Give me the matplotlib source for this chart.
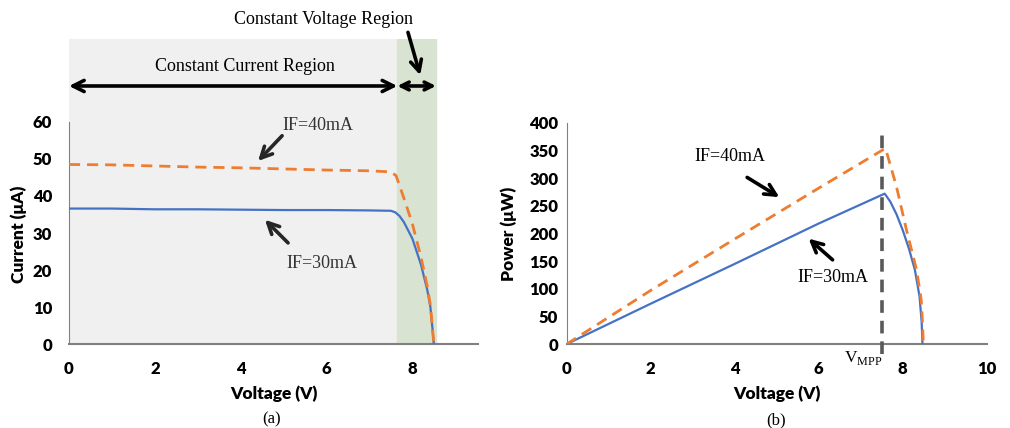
import numpy as np
import matplotlib.pyplot as plt

plt.rcParams['font.family'] = ['Lato', 'DejaVu Sans']
plt.rcParams['mathtext.fontset'] = 'custom'
plt.rcParams['mathtext.rm'] = 'Liberation Serif'

# ---- data: I-V curves (panel a)
v30 = [0, 1, 2, 3, 4, 5, 6, 7, 7.5, 7.6, 7.7, 7.8, 8.0, 8.2, 8.35, 8.42, 8.47, 8.5]
i30 = [36.6, 36.6, 36.4, 36.4, 36.3, 36.2, 36.2, 36.1, 36.0, 35.6, 34.6, 33.0, 28.5, 21.5, 14.5, 10, 4, 0]
v40 = [0, 1, 2, 3, 4, 5, 6, 7, 7.5, 7.62, 7.8, 8.0, 8.2, 8.35, 8.42, 8.47, 8.5]
i40 = [48.5, 48.4, 48.1, 47.8, 47.6, 47.3, 47.0, 46.8, 46.5, 45.5, 39.5, 32.5, 23.5, 15.5, 10.5, 4, 0]

# ---- data: P-V curves (panel b)
pv30 = [0, 2, 4, 6, 7.57, 7.7, 7.85, 8.0, 8.15, 8.29, 8.4, 8.45, 8.47]
p30 = [0, 73, 145, 218, 272, 258, 235, 206, 172, 134, 86, 40, 0]
pv40 = [0, 2, 4, 6, 7.59, 7.85, 8.09, 8.33, 8.44, 8.47, 8.49]
p40 = [0, 97, 190, 282, 354, 285, 206, 134, 80, 40, 0]

v_cc_end = 7.65
v_cv_end = 8.55
v_mpp = 7.51

blue = '#4472C4'
orange = '#ED7D31'
grey = '#808080'
serif = 'Liberation Serif'

fig = plt.figure(figsize=(10.1, 4.28), dpi=100)

# ================= panel (a)
ax1 = fig.add_axes([0.0683, 0.196, 0.405, 0.713])
ax1.set_facecolor('none')
ax1.set_xlim(0, 9.53)
ax1.set_ylim(0, 82.4)
ax1.axvspan(0, v_cc_end, color='#f0f0f0', zorder=0)
ax1.axvspan(v_cc_end, v_cv_end, color='#d9e3d1', zorder=0)

ax1.plot(v30, i30, color=blue, lw=1.6, zorder=3)
ax1.plot(v40, i40, color=orange, lw=2, dashes=(4, 2.5), zorder=3)

for s in ['top', 'right']:
    ax1.spines[s].set_visible(False)
ax1.spines['left'].set_bounds(0, 60)
ax1.spines['left'].set_color(grey)
ax1.spines['bottom'].set_color(grey)
ax1.spines['bottom'].set_linewidth(1.5)
ax1.set_yticks(range(0, 61, 10))
ax1.set_xticks(range(0, 9, 2))
ax1.tick_params(length=0, labelsize=12, pad=12)
for t in ax1.get_xticklabels() + ax1.get_yticklabels():
    t.set_fontweight('heavy')
ax1.set_xlabel('Voltage (V)', fontsize=12.5, fontweight='heavy', labelpad=6)
ax1.set_ylabel('Current (μA)', fontsize=12.5, fontweight='heavy', labelpad=4)
ax1.yaxis.set_label_coords(-0.102, 0.36)

# region arrows
ax1.annotate('', xy=(0, 69.7), xytext=(v_cc_end, 69.7),
             arrowprops=dict(arrowstyle='<->', color='black', lw=2.6,
                             mutation_scale=20, shrinkA=0, shrinkB=0))
ax1.annotate('', xy=(v_cc_end, 69.7), xytext=(v_cv_end, 69.7),
             arrowprops=dict(arrowstyle='<->', color='black', lw=2.6,
                             mutation_scale=14, shrinkA=0, shrinkB=0))
ax1.text(4.1, 74.9, 'Constant Current Region', family=serif, fontsize=13,
         ha='center', va='center')
ax1.text(5.94, 87.6, 'Constant Voltage Region', family=serif, fontsize=13,
         ha='center', va='center', clip_on=False)
ax1.annotate('', xy=(8.2, 71.9), xytext=(7.88, 84.9), annotation_clip=False,
             arrowprops=dict(arrowstyle='->', color='black', lw=2.6, mutation_scale=20))

# curve labels
ar2 = dict(arrowstyle='->', color='#262626', lw=2.6, mutation_scale=20)
ax1.text(5.8, 58.9, 'IF=40mA', family=serif, fontsize=13, color='#333333',
         ha='center', va='center')
ax1.annotate('', xy=(4.36, 48.9), xytext=(5.01, 56.8), arrowprops=ar2)
ax1.text(5.9, 21.9, 'IF=30mA', family=serif, fontsize=13, color='#333333',
         ha='center', va='center')
ax1.annotate('', xy=(4.52, 34.1), xytext=(5.15, 26.8), arrowprops=ar2)

fig.text(272 / 1010, 1 - 419 / 428, '(a)', family=serif, fontsize=12,
         ha='center', va='center')

# ================= panel (b)
ax2 = fig.add_axes([0.561, 0.196, 0.416, 0.517])
ax2.set_xlim(0, 10)
ax2.set_ylim(0, 400)

ax2.plot(pv30, p30, color=blue, lw=1.6, zorder=3)
ax2.plot(pv40, p40, color=orange, lw=2, dashes=(4, 2.5), zorder=3)
ax2.plot([v_mpp, v_mpp], [-18, 382], color='#595959', lw=2.6, dashes=(3.5, 2.2),
         clip_on=False, zorder=4)

for s in ['top', 'right']:
    ax2.spines[s].set_visible(False)
ax2.spines['left'].set_color(grey)
ax2.spines['bottom'].set_color(grey)
ax2.spines['bottom'].set_linewidth(1.5)
ax2.set_yticks(range(0, 401, 50))
ax2.set_xticks(range(0, 11, 2))
ax2.tick_params(length=0, labelsize=12)
ax2.tick_params(axis='x', pad=12)
ax2.tick_params(axis='y', pad=6)
for t in ax2.get_xticklabels() + ax2.get_yticklabels():
    t.set_fontweight('heavy')
ax2.set_xlabel('Voltage (V)', fontsize=12.5, fontweight='heavy', labelpad=6)
ax2.set_ylabel('Power (μW)', fontsize=12.5, fontweight='heavy', labelpad=4)
ax2.yaxis.set_label_coords(-0.117, 0.5)

ar3 = dict(arrowstyle='->', color='black', lw=2.6, mutation_scale=20)
ax2.text(3.88, 339, 'IF=40mA', family=serif, fontsize=13, ha='center', va='center')
ax2.annotate('', xy=(5.12, 263), xytext=(4.24, 304), arrowprops=ar3)
ax2.text(6.33, 120, 'IF=30mA', family=serif, fontsize=13, ha='center', va='center')
ax2.annotate('', xy=(5.71, 194), xytext=(6.38, 149), arrowprops=ar3)
ax2.text(7.05, -25, r'V$_{\rm MPP}$', family=serif, fontsize=12.5,
         ha='center', va='center', clip_on=False)

fig.text(776 / 1010, 1 - 420 / 428, '(b)', family=serif, fontsize=12,
         ha='center', va='center')

fig.savefig('out.png', dpi=100)
